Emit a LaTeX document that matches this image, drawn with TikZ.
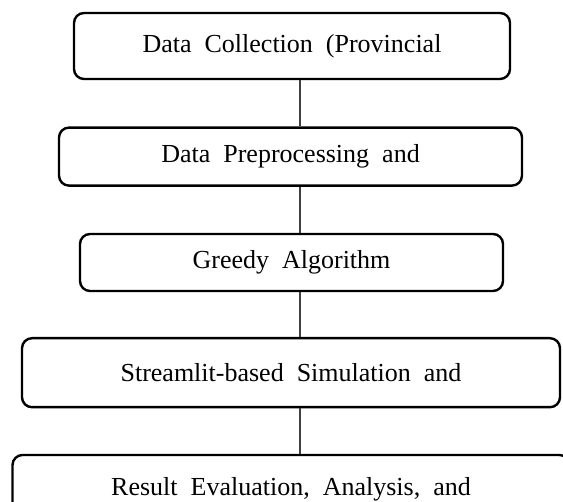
\documentclass[tikz,border=0pt]{standalone}
\usepackage{fontspec}
\setmainfont{Liberation Serif}[WordSpace=2]
\begin{document}
\begin{tikzpicture}[x=1pt,y=-1pt,
  stepbox/.style={draw=black,line width=2.4pt,rounded corners=10pt,inner sep=0pt,
    font=\fontsize{26}{30}\selectfont,anchor=center},
  link/.style={draw={rgb,255:red,64;green,64;blue,64},line width=1.4pt}]
\useasboundingbox (0,0) rectangle (563,502);
\clip (0,0) rectangle (563,502);
\node[stepbox,minimum width=436pt,minimum height=66pt] (b1) at (292,46) {Data Collection (Provincial};
\node[stepbox,minimum width=463pt,minimum height=58pt] (b2) at (290.5,156.6) {Data Preprocessing and};
\node[stepbox,minimum width=423pt,minimum height=57pt] (b3) at (291.5,262.5) {Greedy Algorithm};
\node[stepbox,minimum width=538pt,minimum height=69pt] (b4) at (291,372.7) {Streamlit-based Simulation and};
\node[stepbox,minimum width=557pt,minimum height=68pt] (b5) at (291,489) {Result Evaluation, Analysis, and};
\coordinate (lx) at (300,0);
\draw[link] (b1.south -| lx) -- (b2.north -| lx);
\draw[link] (b2.south -| lx) -- (b3.north -| lx);
\draw[link] (b3.south -| lx) -- (b4.north -| lx);
\draw[link] (b4.south -| lx) -- (b5.north -| lx);
\end{tikzpicture}
\end{document}
